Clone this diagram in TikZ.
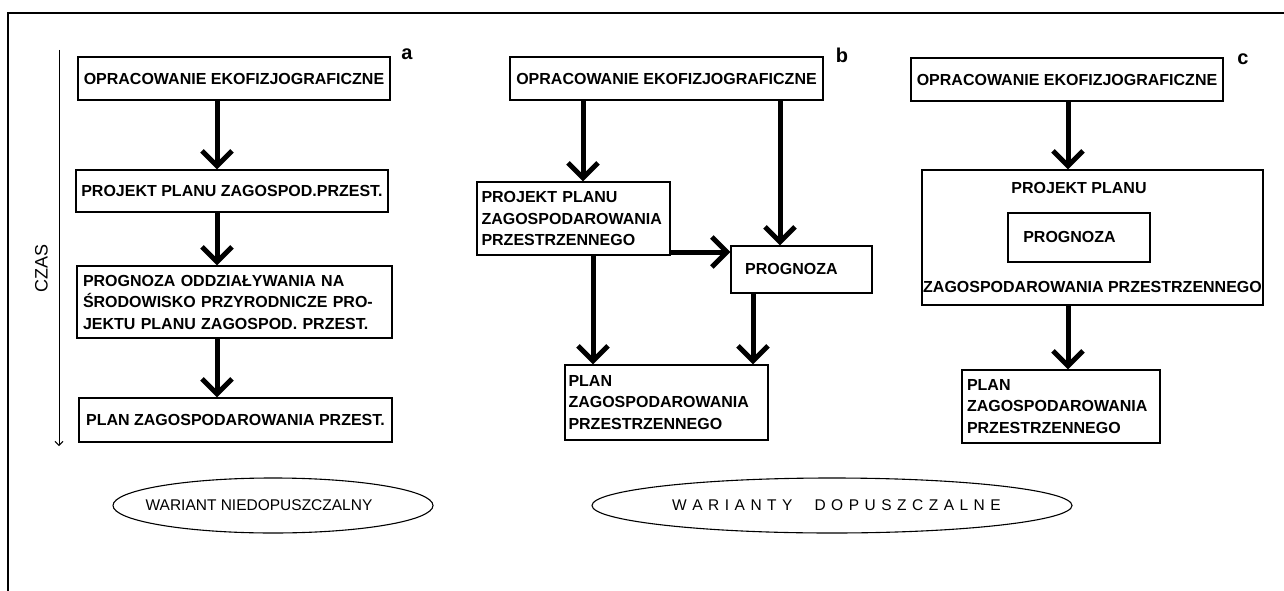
\documentclass[tikz,border=0pt]{standalone}
\usepackage{fontspec}
\setmainfont{Liberation Sans}
\usetikzlibrary{arrows.meta,shapes.geometric}
\hyphenpenalty=10000
\exhyphenpenalty=10000
\newcommand\boxfont{\fontsize{16}{21.5}\selectfont\bfseries}
\newcommand\ellfont{\fontsize{15.5}{18}\selectfont}
\newcommand\hs{\hspace{5.5pt}}
\begin{document}
\begin{tikzpicture}[x=1pt,y=-1pt,
  box/.style={draw, line width=1.2pt, rectangle, inner sep=0pt, font=\boxfont},
  lbox/.style={box, align=left, inner xsep=#1},
  arr/.style={line width=5pt, -{Straight Barb[length=15pt,width=30pt]}},
  taxis/.style={line width=1pt, -{Straight Barb[length=4pt,width=8pt]}},
  ell/.style={draw, ellipse, line width=1.1pt, inner sep=0pt},
  lbl/.style={font=\fontsize{20}{22}\selectfont\bfseries, inner sep=0pt},
  plain/.style={font=\boxfont, inner sep=0pt}]
\useasboundingbox (0,0) rectangle (1284,591);
\fill[white] (0,0) rectangle (1284,591);
% frame
\draw[line width=2pt] (8,591) -- (8,13) -- (1284,13);

% time axis
\coordinate (t0) at (59,50);
\coordinate (t1) at (59,446);
\draw[taxis] (t0) -- (t1);
\node[rotate=90, font=\fontsize{18}{20}\selectfont, inner sep=0pt] (czas) at (41.5,268) {CZAS};

% ---------- a ----------
\node[box, minimum width=312pt, minimum height=43pt] (a1) at (234,78.5) {OPRACOWANIE EKOFIZJOGRAFICZNE};
\node[box, minimum width=312pt, minimum height=42pt] (a2) at (232,191) {PROJEKT PLANU ZAGOSPOD.PRZEST.};
\node[lbox=6pt, text width=303pt, minimum height=72pt] (a3) at (234.5,302) {PROGNOZA ODDZIAŁYWANIA NA\\ŚRODOWISKO PRZYRODNICZE PRO-\\JEKTU PLANU ZAGOSPOD. PRZEST.};
\node[box, minimum width=313pt, minimum height=44pt] (a4) at (235.5,420) {PLAN ZAGOSPODAROWANIA PRZEST.};
\node[lbl] (la) at (407,54) {a};
\draw[arr] ([xshift=-17pt]a1.south) -- ([xshift=-17pt]a1.south |- a2.north);
\draw[arr] ([xshift=-15pt]a2.south) -- ([xshift=-15pt]a2.south |- a3.north);
\draw[arr] ([xshift=-17.5pt]a3.south) -- ([xshift=-17.5pt]a3.south |- a4.north);

% ---------- b ----------
\node[box, minimum width=313pt, minimum height=43pt] (b1) at (666.5,78.5) {OPRACOWANIE EKOFIZJOGRAFICZNE};
\node[lbox=4.5pt, text width=184pt, minimum height=73pt] (b2) at (573.5,218.5) {PROJEKT PLANU\\ZAGOSPODAROWANIA\\PRZESTRZENNEGO};
\node[box, minimum width=141pt, minimum height=47pt] (b3) at (801.5,269.5) {};
\node[plain, anchor=west] (b3t) at (745,269) {PROGNOZA};
\node[lbox=3.5pt, text width=196pt, minimum height=75pt] (b4) at (666.5,402.5) {PLAN\\ZAGOSPODAROWANIA\\PRZESTRZENNEGO};
\node[lbl] (lb) at (842,55) {b};
\draw[arr] ([xshift=-83.5pt]b1.south) -- ([xshift=-83.5pt]b1.south |- b2.north);
\draw[arr] ([xshift=113.5pt]b1.south) -- ([xshift=113.5pt]b1.south |- b3.north);
\draw[arr] ([yshift=-33.5pt]b2.east) -- ([yshift=-33.5pt]b2.east -| b3.west);
\draw[arr] ([xshift=19.5pt]b2.south) -- ([xshift=19.5pt]b2.south |- b4.north);
\draw[arr] ([xshift=-48.5pt]b3.south) -- ([xshift=-48.5pt]b3.south |- b4.north);

% ---------- c ----------
\node[box, minimum width=312pt, minimum height=43pt] (c1) at (1067,79.5) {OPRACOWANIE EKOFIZJOGRAFICZNE};
\node[box, minimum width=341pt, minimum height=135pt] (c2) at (1092.5,237.5) {};
\node[plain] (c2t) at (1079,188) {PROJEKT PLANU};
\node[box, minimum width=142pt, minimum height=49pt] (c2p) at (1079,237.5) {};
\node[plain] (c2pt) at (1069.5,237) {PROGNOZA};
\node[plain] (c2b) at (1092.5,287) {ZAGOSPODAROWANIA PRZESTRZENNEGO};
\node[lbox=5pt, text width=188pt, minimum height=73pt] (c3) at (1061,406.5) {PLAN\\ZAGOSPODAROWANIA\\PRZESTRZENNEGO};
\node[lbl] (lc) at (1243,59) {c};
\draw[arr] ([xshift=1pt]c1.south) -- ([xshift=1pt]c1.south |- c2.north);
\draw[arr] ([xshift=-24.5pt]c2.south) -- ([xshift=-24.5pt]c2.south |- c3.north);

% ---------- ellipses ----------
\node[ell, minimum width=320pt, minimum height=55pt] (e1) at (273,505.5) {};
\node[font=\ellfont, inner sep=0pt] (e1t) at (259,505) {WARIANT NIEDOPUSZCZALNY};
\node[ell, minimum width=480pt, minimum height=55pt] (e2) at (832,505.5) {};
\node[font=\ellfont, inner sep=0pt, anchor=west] (e2t) at (672,505) {W\hs A\hs R\hs I\hs A\hs N\hs T\hs Y\hspace{22pt}D\hs O\hs P\hs U\hs S\hs Z\hs C\hs Z\hs A\hs L\hs N\hs E};
\end{tikzpicture}
\end{document}
